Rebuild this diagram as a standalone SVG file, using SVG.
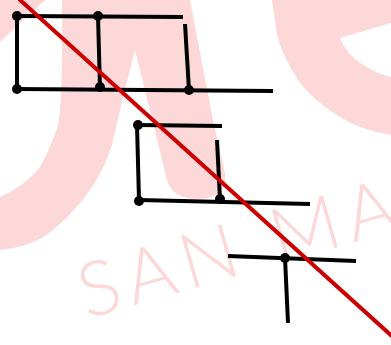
<svg xmlns="http://www.w3.org/2000/svg" width="391" height="345" viewBox="0 0 391 345">
  <style>
    .wm { fill: #fdd8d9; stroke: none; }
    .wmt { fill: #fdd8d9; font-family: Lato, "Noto Sans", sans-serif; font-weight: 300; font-size: 76px; letter-spacing: 8px; }
    .ln { stroke: #000; stroke-width: 4; fill: none; stroke-linecap: butt; }
    .dot { fill: #000; }
    .red { stroke: #cc0000; stroke-width: 4; fill: none; }
  </style>
  <rect width="391" height="345" fill="#fff"/>
  <g id="watermark">
    <path class="wm" d="M0,0 L45,0 L0,42 Z"/>
    <path class="wm" d="M62,0 L190,0 L213,120 L225,173 Q229,197 199,199 Q172,199 167,180 L135,50 L123,97 L112,145 Q104,170 90,190 Q70,218 45,236 Q25,248 0,250 L0,197 Q25,186 40,167 Q52,145 58,125 Q63,100 62,0 Z"/>
    <path class="wm" d="M272,0 L391,0 L391,23 L340,38 Q347,55 362,64 Q375,73 391,77 L391,135 Q360,130 340,117 Q312,100 298,80 Q282,55 277,35 Z"/>
    <text class="wmt" transform="translate(87,319) rotate(-16)">SAN MA</text>
  </g>
  <g id="connectors">
    <g id="box1-lines">
      <line class="ln" x1="17" y1="16" x2="183" y2="17"/>
      <line class="ln" x1="17" y1="16" x2="17" y2="89"/>
      <line class="ln" x1="98" y1="16" x2="100" y2="88"/>
      <line class="ln" x1="17" y1="89" x2="273" y2="91"/>
      <line class="ln" x1="185" y1="24" x2="189" y2="90"/>
    </g>
    <g id="box2-lines">
      <line class="ln" x1="138" y1="125" x2="222" y2="126"/>
      <line class="ln" x1="137" y1="125" x2="139" y2="200"/>
      <line class="ln" x1="139" y1="200" x2="310" y2="204"/>
      <line class="ln" x1="217" y1="140" x2="220" y2="200"/>
    </g>
    <g id="t-lines">
      <line class="ln" x1="228" y1="256" x2="356" y2="261"/>
      <line class="ln" x1="285" y1="258" x2="288" y2="323"/>
    </g>
  </g>
  <g id="node-a"><circle class="dot" cx="17" cy="16" r="5"/></g>
  <g id="node-b"><circle class="dot" cx="98" cy="16" r="5"/></g>
  <g id="node-c"><circle class="dot" cx="17" cy="89" r="5"/></g>
  <g id="node-d"><circle class="dot" cx="100" cy="87" r="5"/></g>
  <g id="node-e"><circle class="dot" cx="189" cy="90" r="5"/></g>
  <g id="node-f"><circle class="dot" cx="138" cy="125" r="5"/></g>
  <g id="node-g"><circle class="dot" cx="139" cy="201" r="5"/></g>
  <g id="node-h"><circle class="dot" cx="220" cy="199" r="5"/></g>
  <g id="node-i"><circle class="dot" cx="285" cy="258" r="5"/></g>
  <g id="red-line"><line class="red" x1="19" y1="-1" x2="393" y2="337"/></g>
</svg>
